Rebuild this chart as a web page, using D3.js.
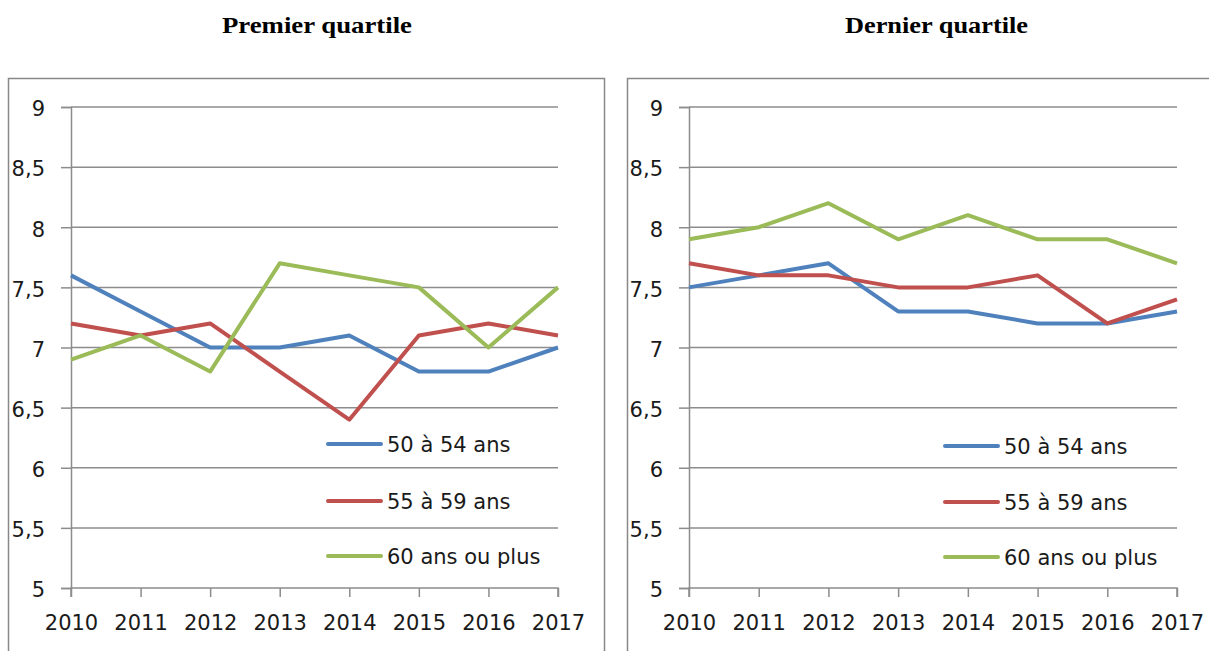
<!DOCTYPE html>
<html>
<head>
<meta charset="utf-8">
<script src="https://cdn.jsdelivr.net/npm/d3@7"></script>
<style>
  html, body { margin: 0; padding: 0; background: #fff; }
  svg { display: block; }
</style>
</head>
<body>
<svg id="chart" width="1209" height="651"></svg>
<script>
const years = [2010, 2011, 2012, 2013, 2014, 2015, 2016, 2017];
const yTicks = [5, 5.5, 6, 6.5, 7, 7.5, 8, 8.5, 9];
const seriesNames = ["50 à 54 ans", "55 à 59 ans", "60 ans ou plus"];
const seriesColors = ["#4F81BD", "#C0504D", "#9BBB59"];

const titles = ["Premier quartile", "Dernier quartile"];

// Premier quartile
const q1_50_54 = [7.6, 7.3, 7.0, 7.0, 7.1, 6.8, 6.8, 7.0];
const q1_55_59 = [7.2, 7.1, 7.2, 6.8, 6.4, 7.1, 7.2, 7.1];
const q1_60p   = [6.9, 7.1, 6.8, 7.7, 7.6, 7.5, 7.0, 7.5];

// Dernier quartile
const q4_50_54 = [7.5, 7.6, 7.7, 7.3, 7.3, 7.2, 7.2, 7.3];
const q4_55_59 = [7.7, 7.6, 7.6, 7.5, 7.5, 7.6, 7.2, 7.4];
const q4_60p   = [7.9, 8.0, 8.2, 7.9, 8.1, 7.9, 7.9, 7.7];

const panelsData = [
  [q1_50_54, q1_55_59, q1_60p],
  [q4_50_54, q4_55_59, q4_60p]
];

const svg = d3.select("#chart");
const GRID = "#8c8c8c";
const tickFont = "'DejaVu Sans', sans-serif";
const FS = 21;

const layout = [
  { box: [8, 78, 596, 600], plotL: 71, plotR: 558, titleX: 317, titleW: 190, legX: 328, legY: [444, 501, 556] },
  { box: [627, 78, 600, 600], plotL: 689, plotR: 1177, titleX: 936.5, titleW: 183, legX: 945, legY: [446, 502, 557] }
];
const plotTop = 107, plotBottom = 588;

layout.forEach((L, pi) => {
  const g = svg.append("g");

  // title
  g.append("text")
    .attr("x", L.titleX - L.titleW / 2).attr("y", 33)
    .attr("font-family", "'Liberation Serif', 'Times New Roman', serif")
    .attr("font-weight", "bold")
    .attr("font-size", 24)
    .attr("textLength", L.titleW)
    .attr("lengthAdjust", "spacingAndGlyphs")
    .text(titles[pi]);

  // chart box
  g.append("rect")
    .attr("x", L.box[0] + 0.5).attr("y", L.box[1] + 0.5)
    .attr("width", L.box[2]).attr("height", L.box[3])
    .attr("fill", "none").attr("stroke", "#888").attr("stroke-width", 1.5);

  const x = d3.scalePoint().domain(years).range([L.plotL, L.plotR]);
  const y = d3.scaleLinear().domain([5, 9]).range([plotBottom, plotTop]);

  // gridlines
  g.append("g").selectAll("line").data(yTicks.filter(v => v !== 5)).join("line")
    .attr("x1", L.plotL).attr("x2", L.plotR)
    .attr("y1", d => y(d)).attr("y2", d => y(d))
    .attr("stroke", GRID).attr("stroke-width", 1.5);

  // y axis
  const yAxis = d3.axisLeft(y).tickValues(yTicks).tickSize(10).tickPadding(16)
    .tickFormat(d => d3.format("")(d).replace(".", ","));
  const ya = g.append("g").attr("transform", `translate(${L.plotL},0)`).call(yAxis);
  ya.select(".domain").attr("stroke", GRID).attr("stroke-width", 1.5);
  ya.selectAll(".tick line").attr("stroke", GRID).attr("stroke-width", 1.5);
  ya.selectAll(".tick text").attr("font-family", tickFont).attr("font-size", FS)
    .attr("fill", "#1a1a1a").attr("dy", "0.42em");

  // x axis
  const xAxis = d3.axisBottom(x).tickSize(9).tickPadding(18);
  const xa = g.append("g").attr("transform", `translate(0,${plotBottom})`).call(xAxis);
  xa.select(".domain").attr("d", `M${L.plotL},9V0H${L.plotR}V9`).attr("stroke", GRID).attr("stroke-width", 1.5);
  xa.selectAll(".tick line").attr("stroke", GRID).attr("stroke-width", 1.5);
  xa.selectAll(".tick text").attr("font-family", tickFont).attr("font-size", FS).attr("fill", "#1a1a1a");

  // lines
  const line = d3.line().x((d, i) => x(years[i])).y(d => y(d));
  panelsData[pi].forEach((vals, si) => {
    g.append("path")
      .datum(vals)
      .attr("d", line)
      .attr("fill", "none")
      .attr("stroke", seriesColors[si])
      .attr("stroke-width", 4)
      .attr("stroke-linejoin", "round");
  });

  // legend
  seriesNames.forEach((name, si) => {
    const ly = L.legY[si];
    g.append("line")
      .attr("x1", L.legX).attr("x2", L.legX + 53)
      .attr("y1", ly).attr("y2", ly)
      .attr("stroke", seriesColors[si]).attr("stroke-width", 4)
      .attr("stroke-linecap", "round");
    g.append("text")
      .attr("x", L.legX + 59).attr("y", ly)
      .attr("dy", "0.36em")
      .attr("font-family", tickFont).attr("font-size", FS).attr("fill", "#1a1a1a")
      .text(name);
  });
});
</script>
</body>
</html>
